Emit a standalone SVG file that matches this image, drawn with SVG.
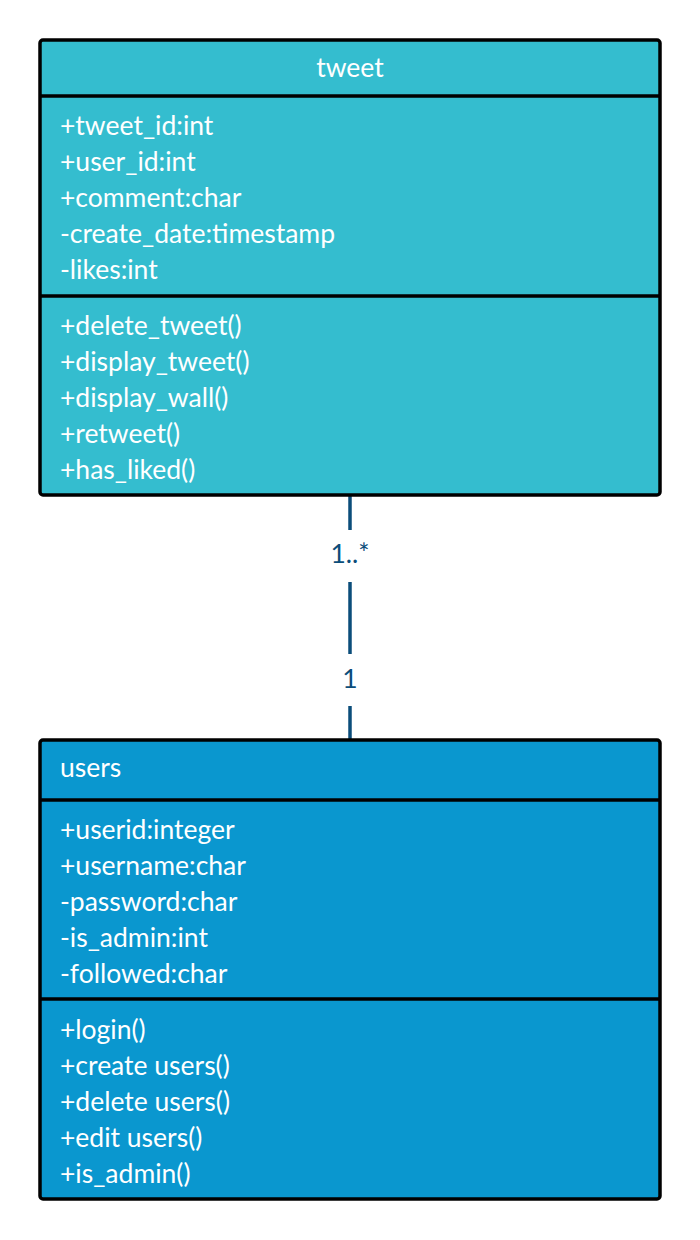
<svg xmlns="http://www.w3.org/2000/svg" width="700" height="1240" viewBox="0 0 700 1240">
<style>
.box{stroke:#000;stroke-width:3.5}
.sep{stroke:#000;stroke-width:3.5}
.t{font-family:Lato,"Open Sans",sans-serif;font-size:26.5px;fill:#fff}
.lbl{font-family:Lato,"Open Sans",sans-serif;font-size:26.5px;fill:#0b4d7a;text-anchor:middle}
.conn{stroke:#0b4d7a;stroke-width:3.5;fill:none}
</style>
<rect width="700" height="1240" fill="#fff"/>
<g id="connectors">
<line class="conn" x1="350" y1="495" x2="350" y2="530"/>
<line class="conn" x1="350" y1="582" x2="350" y2="654"/>
<line class="conn" x1="350" y1="706" x2="350" y2="740"/>
<text class="lbl" x="350" y="563">1..*</text>
<text class="lbl" x="350" y="688">1</text>
</g>
<g id="tweet">
<rect class="box" x="40" y="40" width="620" height="455" rx="3" fill="#34bdcf"/>
<line class="sep" x1="40" y1="96" x2="660" y2="96"/>
<line class="sep" x1="40" y1="296" x2="660" y2="296"/>
<text class="t" x="350" y="77" text-anchor="middle">tweet</text>
<text class="t" x="60" y="135">+tweet_id:int</text>
<text class="t" x="60" y="171">+user_id:int</text>
<text class="t" x="60" y="207">+comment:char</text>
<text class="t" x="60" y="243">-create_date:timestamp</text>
<text class="t" x="60" y="279">-likes:int</text>
<text class="t" x="60" y="335">+delete_tweet()</text>
<text class="t" x="60" y="371">+display_tweet()</text>
<text class="t" x="60" y="407">+display_wall()</text>
<text class="t" x="60" y="443">+retweet()</text>
<text class="t" x="60" y="479">+has_liked()</text>
</g>
<g id="users">
<rect class="box" x="40" y="740" width="620" height="459" rx="3" fill="#0a97cf"/>
<line class="sep" x1="40" y1="800" x2="660" y2="800"/>
<line class="sep" x1="40" y1="999" x2="660" y2="999"/>
<text class="t" x="60" y="777">users</text>
<text class="t" x="60" y="839">+userid:integer</text>
<text class="t" x="60" y="875">+username:char</text>
<text class="t" x="60" y="911">-password:char</text>
<text class="t" x="60" y="947">-is_admin:int</text>
<text class="t" x="60" y="983">-followed:char</text>
<text class="t" x="60" y="1039">+login()</text>
<text class="t" x="60" y="1075">+create users()</text>
<text class="t" x="60" y="1111">+delete users()</text>
<text class="t" x="60" y="1147">+edit users()</text>
<text class="t" x="60" y="1183">+is_admin()</text>
</g>
</svg>
